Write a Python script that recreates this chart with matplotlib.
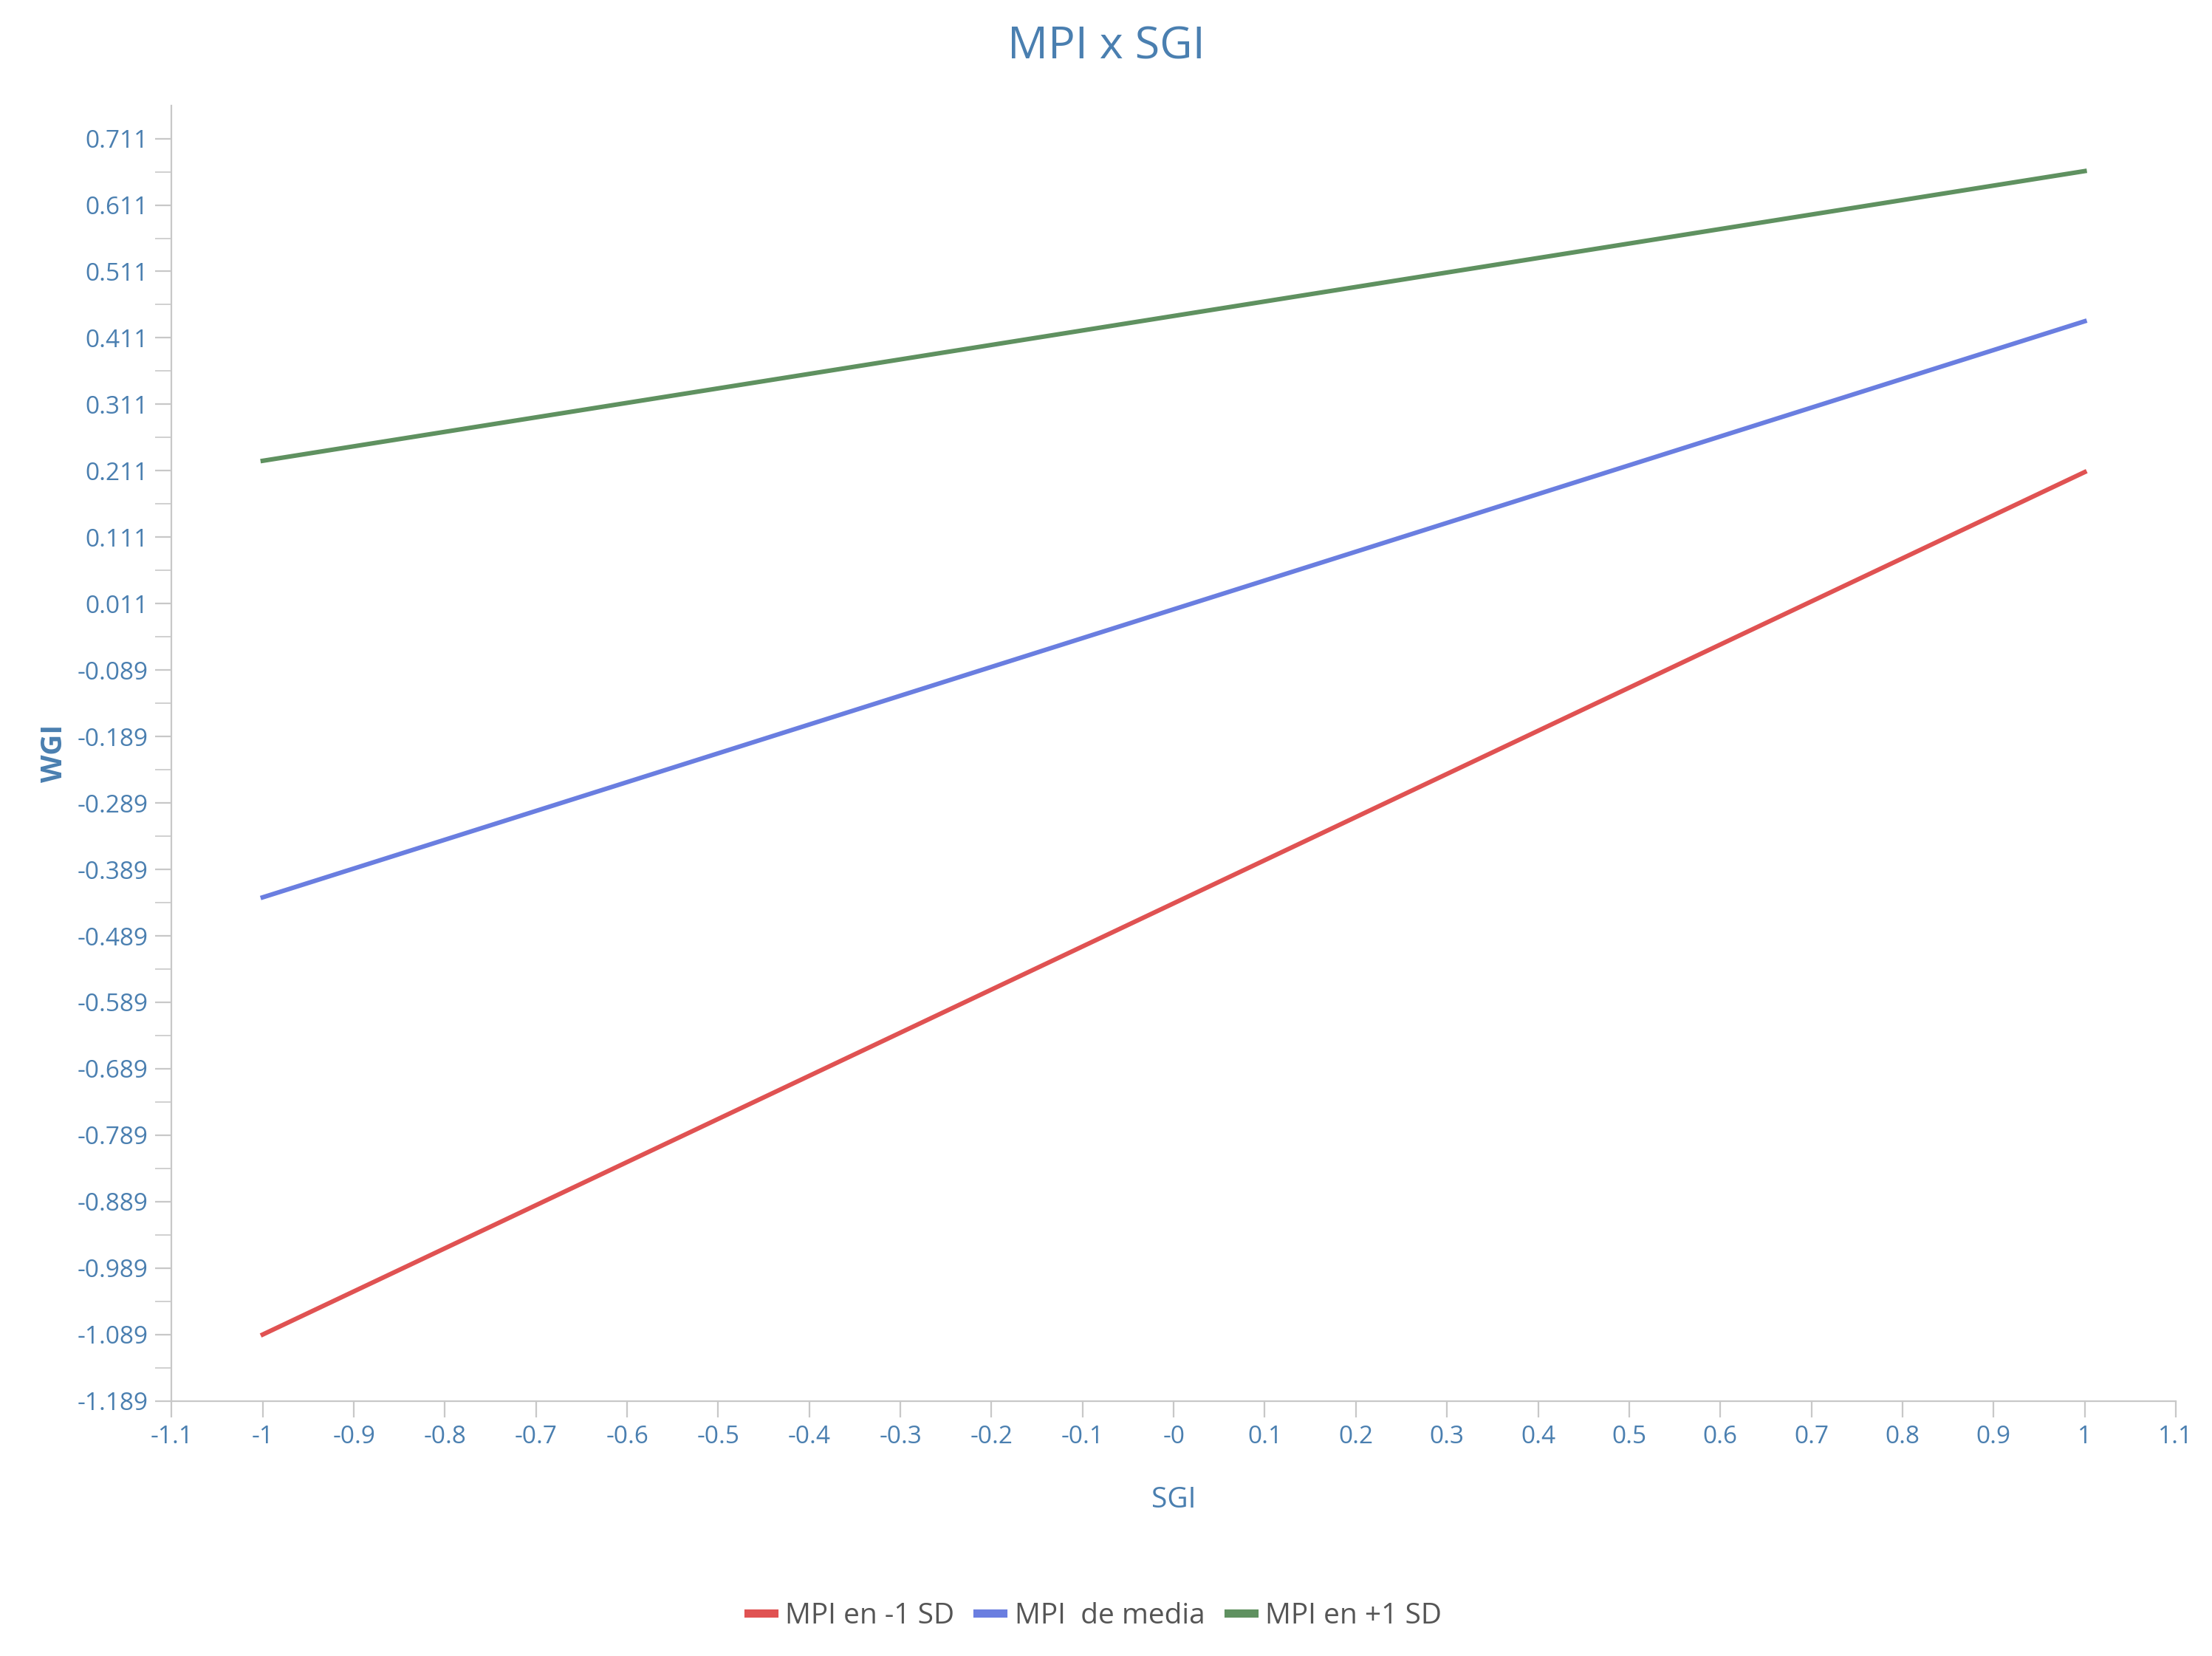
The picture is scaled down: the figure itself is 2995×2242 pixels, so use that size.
import numpy as np
import matplotlib.pyplot as plt

plt.rcParams['font.family'] = ['Open Sans', 'DejaVu Sans']

sgi = [-1, 1]
wgi_low = [-1.089, 0.209]
wgi_mean = [-0.431, 0.436]
wgi_high = [0.226, 0.662]
series_names = ['MPI en -1 SD', 'MPI  de media', 'MPI en +1 SD']
colors = ['#e05252', '#6a7ee0', '#5f9160']
txt = '#4a7fb0'

fig = plt.figure(figsize=(14.975, 11.21), dpi=200)
ax = fig.add_axes([0.0776, 0.154, 0.906, 0.782])

for ys, name, c in zip([wgi_low, wgi_mean, wgi_high], series_names, colors):
    ax.plot(sgi, ys, color=c, lw=2.2, label=name)

ax.set_xlim(-1.1, 1.1)
ax.set_ylim(-1.189, 0.76)
xt = np.round(np.arange(-1.1, 1.11, 0.1), 1)
ax.set_xticks(xt)
ax.set_xticklabels(['-0' if abs(v) < 1e-9 else f'{v:g}' for v in xt])
yt = np.round(np.arange(-1.189, 0.72, 0.1), 3)
ax.set_yticks(yt)
ax.set_yticklabels([f'{v:.3f}' for v in yt])
ax.yaxis.set_minor_locator(plt.FixedLocator(np.arange(-1.189 + 0.05, 0.76, 0.1)))

for s in ['top', 'right']:
    ax.spines[s].set_visible(False)
for s in ['left', 'bottom']:
    ax.spines[s].set_color('#c8c8c8')
ax.tick_params(axis='both', which='both', colors='#c8c8c8', labelcolor=txt, labelsize=12, length=8)

ax.set_xlabel('SGI', color=txt, fontsize=14, labelpad=18)
ax.set_ylabel('WGI', color=txt, fontsize=14, labelpad=4, fontweight='bold')
fig.suptitle('MPI x SGI', color=txt, fontsize=22, y=0.985)

leg = fig.legend(loc='lower center', ncol=3, frameon=False, fontsize=14, bbox_to_anchor=(0.495, 0.0),
                 handlelength=0.9, handletextpad=0.4, columnspacing=0.8, labelcolor='#555555')
for line in leg.get_lines():
    line.set_linewidth(4)

fig.savefig('out.png', dpi=200, facecolor='white')
